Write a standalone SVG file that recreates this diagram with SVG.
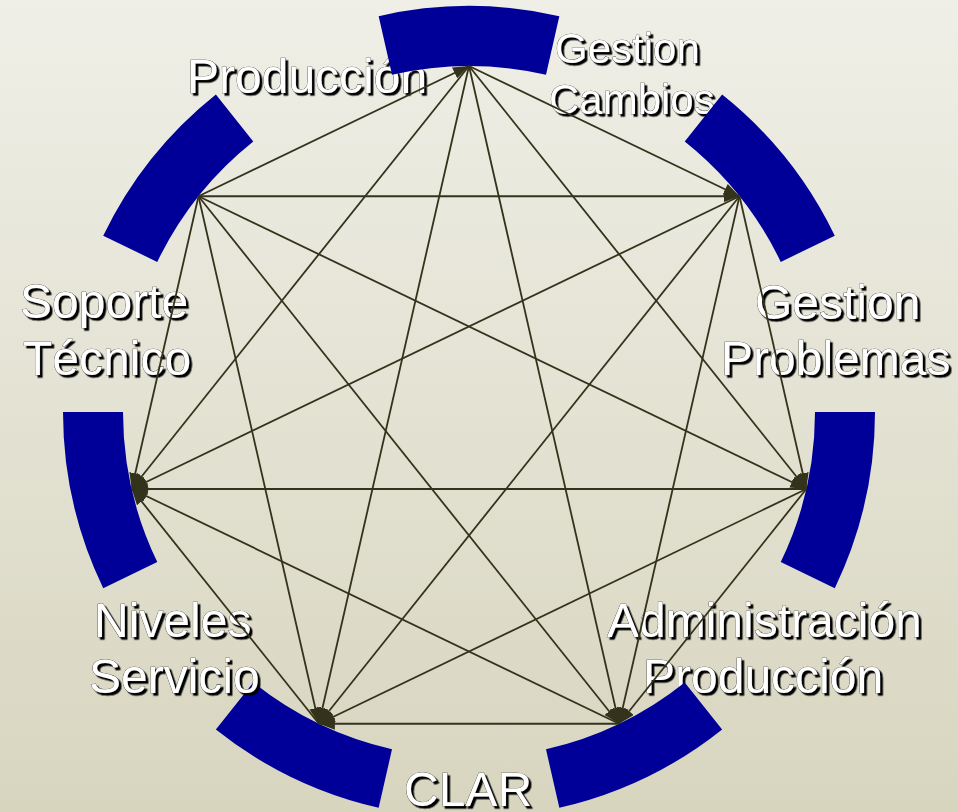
<svg xmlns="http://www.w3.org/2000/svg" width="958" height="812" viewBox="0 0 958 812">
<defs>
<linearGradient id="bg" x1="0" y1="0" x2="0" y2="1">
<stop offset="0" stop-color="#efefe7"/>
<stop offset="1" stop-color="#d8d5bf"/>
</linearGradient>
<filter id="shadow" x="-10%" y="-20%" width="120%" height="150%">
<feDropShadow dx="2.5" dy="2.5" stdDeviation="0.4" flood-color="#000" flood-opacity="1"/>
</filter>
<marker id="ah" viewBox="0 0 16 12" refX="16" refY="6" markerWidth="16" markerHeight="12" markerUnits="userSpaceOnUse" orient="auto">
<path d="M0,0 L16,6 L0,12 Z" fill="#33331c"/>
</marker>
<style>
.arc{fill:#000099}
.lbl{font-family:"Liberation Sans",Arial,sans-serif;font-size:48px;fill:#ffffff;stroke:#222;stroke-width:0.6px;paint-order:stroke;filter:url(#shadow)}
.sm{font-size:42px}
#edges line{stroke:#33331c;stroke-width:1.8;marker-end:url(#ah)}
</style>
</defs>
<rect x="0" y="0" width="958" height="812" fill="url(#bg)"/>

<g id="node-produccion">
<path class="arc" d="M103.21,235.84 A406,406 0 0 1 215.86,94.58 L253.27,141.49 A346,346 0 0 0 157.26,261.88 Z"/>
<text class="lbl" x="187" y="93">Producción</text>
</g>

<g id="node-gestion-cambios">
<path class="arc" d="M378.66,16.18 A406,406 0 0 1 559.34,16.18 L545.99,74.67 A346,346 0 0 0 392.01,74.67 Z"/>
<text class="lbl sm" x="555" y="63">Gestion</text>
<text class="lbl sm" x="549" y="114">Cambios</text>
</g>

<g id="node-gestion-problemas">
<path class="arc" d="M722.14,94.58 A406,406 0 0 1 834.79,235.84 L780.74,261.88 A346,346 0 0 0 684.73,141.49 Z"/>
<text class="lbl" x="755" y="319">Gestion</text>
<text class="lbl" x="721" y="375">Problemas</text>
</g>

<g id="node-administracion-produccion">
<path class="arc" d="M875,412 A406,406 0 0 1 834.79,588.16 L780.74,562.12 A346,346 0 0 0 815,412 Z"/>
<text class="lbl" x="607" y="637">Administración</text>
<text class="lbl" x="643" y="693">Producción</text>
</g>

<g id="node-clar">
<path class="arc" d="M722.14,729.42 A406,406 0 0 1 559.34,807.82 L545.99,749.33 A346,346 0 0 0 684.73,682.51 Z"/>
<text class="lbl" x="404" y="806">CLAR</text>
</g>

<g id="node-niveles-servicio">
<path class="arc" d="M378.66,807.82 A406,406 0 0 1 215.86,729.42 L253.27,682.51 A346,346 0 0 0 392.01,749.33 Z"/>
<text class="lbl" x="94" y="637">Niveles</text>
<text class="lbl" x="89" y="693">Servicio</text>
</g>

<g id="node-soporte-tecnico">
<path class="arc" d="M103.21,588.16 A406,406 0 0 1 63,412 L123,412 A346,346 0 0 0 157.26,562.12 Z"/>
<text class="lbl" x="20" y="318">Soporte</text>
<text class="lbl" x="23" y="375">Técnico</text>
</g>

<g id="edges">
<line x1="198.49" y1="196.27" x2="469" y2="66"/>
<line x1="198.49" y1="196.27" x2="739.51" y2="196.27"/>
<line x1="198.49" y1="196.27" x2="806.33" y2="488.99"/>
<line x1="198.49" y1="196.27" x2="619.12" y2="723.74"/>
<line x1="198.49" y1="196.27" x2="318.88" y2="723.74"/>
<line x1="198.49" y1="196.27" x2="131.67" y2="488.99"/>
<line x1="469" y1="66" x2="739.51" y2="196.27"/>
<line x1="469" y1="66" x2="806.33" y2="488.99"/>
<line x1="469" y1="66" x2="619.12" y2="723.74"/>
<line x1="469" y1="66" x2="318.88" y2="723.74"/>
<line x1="469" y1="66" x2="131.67" y2="488.99"/>
<line x1="739.51" y1="196.27" x2="806.33" y2="488.99"/>
<line x1="739.51" y1="196.27" x2="619.12" y2="723.74"/>
<line x1="739.51" y1="196.27" x2="318.88" y2="723.74"/>
<line x1="739.51" y1="196.27" x2="131.67" y2="488.99"/>
<line x1="806.33" y1="488.99" x2="619.12" y2="723.74"/>
<line x1="806.33" y1="488.99" x2="318.88" y2="723.74"/>
<line x1="806.33" y1="488.99" x2="131.67" y2="488.99"/>
<line x1="619.12" y1="723.74" x2="318.88" y2="723.74"/>
<line x1="619.12" y1="723.74" x2="131.67" y2="488.99"/>
<line x1="318.88" y1="723.74" x2="131.67" y2="488.99"/>
</g>
</svg>
